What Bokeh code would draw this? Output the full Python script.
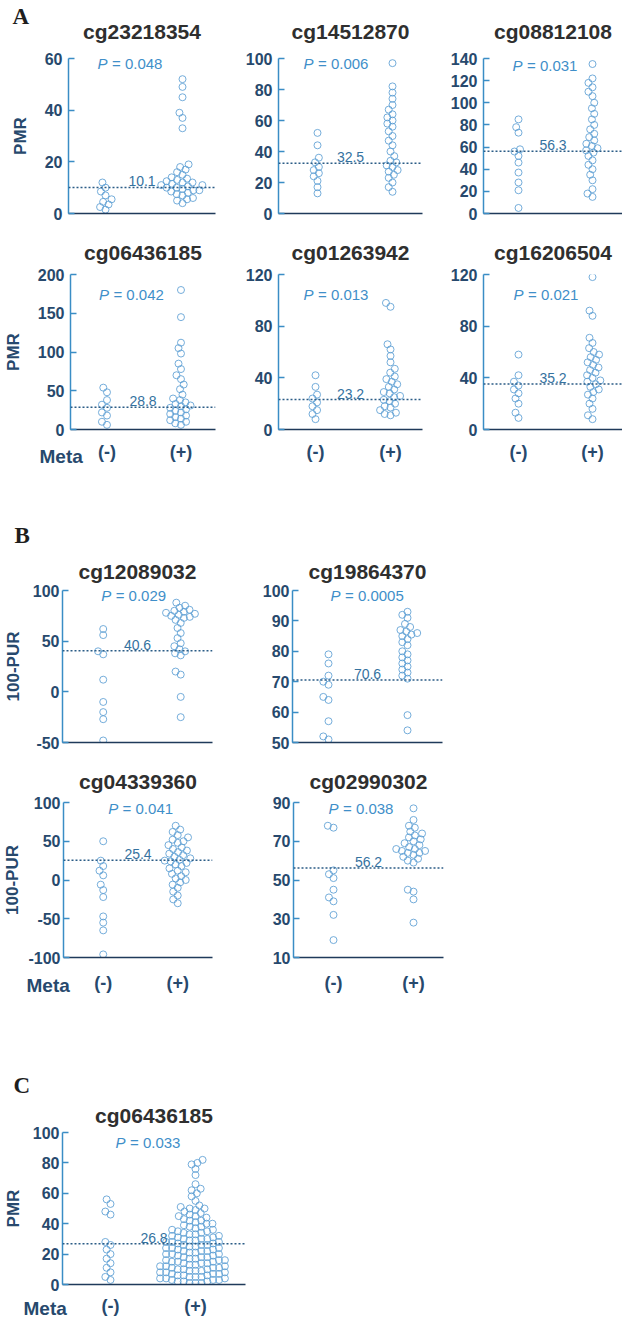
import math
from bokeh.plotting import figure
from bokeh.models import Range1d, FixedTicker, Span, Label, Spacer, Title
from bokeh.layouts import row, column
from bokeh.embed import file_html
from bokeh.resources import INLINE

# ---------------- data ----------------
titles = ["cg23218354", "cg14512870", "cg08812108", "cg06436185", "cg01263942",
          "cg16206504", "cg12089032", "cg19864370", "cg04339360", "cg02990302",
          "cg06436185"]
p_values = ["0.048", "0.006", "0.031", "0.042", "0.013", "0.021",
            "0.029", "0.0005", "0.041", "0.038", "0.033"]
means = [10.1, 32.5, 56.3, 28.8, 23.2, 35.2, 40.6, 70.6, 25.4, 56.2, 26.8]
y_labels = ["PMR", "", "", "PMR", "", "", "100-PUR", "", "100-PUR", "", "PMR"]
y_limits = [(0, 60), (0, 100), (0, 140), (0, 200), (0, 120), (0, 120),
            (-50, 100), (50, 100), (-100, 100), (10, 90), (0, 100)]
y_ticks = [[0, 20, 40, 60], [0, 20, 40, 60, 80, 100],
           [0, 20, 40, 60, 80, 100, 120, 140], [0, 50, 100, 150, 200],
           [0, 40, 80, 120], [0, 40, 80, 120], [-50, 0, 50, 100],
           [50, 60, 70, 80, 90, 100], [-100, -50, 0, 50, 100],
           [10, 30, 50, 70, 90], [0, 20, 40, 60, 80, 100]]
group_labels = ["(-)", "(+)"]
x_caption = "Meta"
panel_letters = {0: "A", 6: "B", 10: "C"}

a1_neg = [1.5, 2.5, 3.5, 4.5, 5.5, 7, 8.5, 10, 12]
a1_pos = [4, 5, 5.5, 6, 7, 7.5, 8, 8.5, 9, 9, 9.5, 10, 10, 10.5, 11, 11, 11.5, 12,
          12, 12.5, 13, 13.5, 14, 15, 16, 17, 18, 19, 33, 37, 39, 45, 49, 52]
a2_neg = [13, 17, 21, 24, 26, 28, 30, 33, 36, 44, 52]
a2_pos = [97, 82, 78, 74, 70, 67, 64, 62, 60, 58, 56, 53, 50, 47, 44, 40, 37, 34,
          33, 31, 30, 28, 27, 25, 23, 20, 17, 14]
a3_neg = [5, 21, 28, 37, 46, 52, 56, 58, 73, 78, 85]
a3_pos = [135, 122, 118, 114, 110, 106, 100, 95, 90, 85, 80, 76, 72, 69, 66, 63,
          61, 59, 57, 55, 52, 48, 44, 40, 35, 30, 22, 18, 15]
a4_neg = [6, 10, 18, 22, 28, 32, 38, 48, 54]
a4_pos = [180, 145, 112, 105, 98, 85, 78, 70, 65, 58, 52, 45, 40, 38, 35, 33, 31,
          30, 28, 26, 24, 22, 20, 18, 16, 14, 12, 10, 8, 6]
a5_neg = [8, 12, 15, 18, 21, 24, 27, 33, 42]
a5_pos = [98, 95, 66, 62, 57, 52, 47, 44, 41, 39, 37, 35, 33, 31, 29, 28, 26, 25,
          23, 22, 20, 18, 17, 15, 13, 12, 11]
a6_neg = [9, 13, 20, 24, 28, 31, 34, 37, 42, 58]
a6_pos = [118, 92, 88, 71, 67, 63, 60, 58, 56, 54, 52, 50, 48, 46, 44, 42, 40, 38,
          37, 35, 33, 31, 29, 27, 24, 20, 16, 11, 8]
b1_neg = [62, 56, 40, 37, 12, -10, -20, -27, -48]
b1_pos = [88, 85, 83, 81, 80, 79, 78, 77, 76, 75, 74, 73, 71, 68, 63, 58, 53, 48,
          45, 42, 40, 38, 36, 20, 17, -5, -25]
b2_neg = [79, 76, 72, 70, 69, 65, 64, 57, 52, 51]
b2_pos = [93, 92, 91, 89, 88, 87, 86.5, 86, 85.5, 85, 84, 83, 82, 80, 79, 78, 77,
          76, 75, 74, 73, 72, 71, 59, 54]
b3_neg = [50, 25, 18, 12, 6, -6, -13, -22, -47, -55, -65, -96]
b3_pos = [70, 65, 62, 58, 55, 52, 50, 48, 45, 42, 40, 38, 36, 34, 32, 30, 28, 26,
          25, 24, 22, 20, 18, 15, 12, 10, 8, 5, 2, 0, -3, -6, -10, -15, -20, -25, -30]
b4_neg = [78, 77, 55, 53, 51, 45, 41, 39, 32, 19]
b4_pos = [87, 81, 78, 77, 75, 74, 73, 72, 71, 70, 69, 68, 67, 66, 66, 65, 65, 64,
          64, 63, 62, 61, 60, 59, 45, 44, 40, 28]
c_neg = [56, 53, 48, 46, 28, 26, 23, 20, 17, 14, 11, 8, 5, 3]
c_pos = [82, 80, 79, 76, 72, 66, 63, 62, 60, 58,
         55, 52, 51, 50, 50, 49, 48, 47, 46, 45,
         45, 44, 43, 42, 42, 41, 40, 40, 39, 38,
         38, 37, 36, 36, 35, 35, 34, 34, 33, 33,
         32, 32, 31, 31, 30, 30, 30, 29, 29, 28,
         28, 28, 27, 27, 26, 26, 26, 25, 25, 24,
         24, 24, 23, 23, 22, 22, 22, 21, 21, 20,
         20, 20, 19, 19, 18, 18, 18, 17, 17, 16,
         16, 16, 15, 15, 15, 14, 14, 14, 13, 13,
         12, 12, 12, 11, 11, 11, 10, 10, 10, 9,
         9, 9, 8, 8, 8, 7, 7, 7, 6, 6,
         6, 5, 5, 5, 4, 4, 4, 3, 3, 3,
         2, 2, 2, 1, 1, 1]

groups = [(a1_neg, a1_pos), (a2_neg, a2_pos), (a3_neg, a3_pos),
          (a4_neg, a4_pos), (a5_neg, a5_pos), (a6_neg, a6_pos),
          (b1_neg, b1_pos), (b2_neg, b2_pos), (b3_neg, b3_pos),
          (b4_neg, b4_pos), (c_neg, c_pos)]

# ---------------- layout (page pixel coordinates) ----------------
GEOM = [
    dict(fig=(0, 0, 225, 228), frame=(68, 58, 215, 213), cats=(105, 182)),
    dict(fig=(225, 0, 432, 228), frame=(278, 58, 422, 213), cats=(317, 392)),
    dict(fig=(432, 0, 622, 228), frame=(483, 58, 622, 213), cats=(518, 592)),
    dict(fig=(0, 228, 225, 469), frame=(68, 273, 215, 429), cats=(105, 180)),
    dict(fig=(225, 228, 432, 469), frame=(278, 273, 422, 429), cats=(315, 390)),
    dict(fig=(432, 228, 622, 469), frame=(483, 273, 622, 429), cats=(518, 592)),
    dict(fig=(0, 518, 222, 757), frame=(61, 590, 212, 742), cats=(102, 180)),
    dict(fig=(222, 518, 452, 757), frame=(292, 590, 442, 742), cats=(328, 407)),
    dict(fig=(0, 757, 222, 995), frame=(62, 802, 212, 958), cats=(102, 177)),
    dict(fig=(222, 757, 453, 995), frame=(293, 802, 443, 958), cats=(333, 413)),
    dict(fig=(0, 1070, 255, 1318), frame=(62, 1132, 245, 1285), cats=(110, 195)),
]
TITLE_Y = [32, 32, 32, 252, 252, 252, 572, 572, 782, 782, 1116]
P_POS = [(97, 63), (303, 63), (512, 65), (97, 293), (303, 293), (513, 293),
         (100, 595), (330, 595), (107, 808), (328, 808), (115, 1142)]
LETTER_POS = {0: (12, 19), 6: (13, 538), 10: (13, 1088)}   # left edge, centre y
META_POS = {3: (37, 452), 8: (25, 982), 10: (23, 1305)}     # left edge, centre y
XLAB = {3: 12, 4: 12, 5: 12, 8: 15, 9: 15, 10: 11}
YSTAND = [6, 6, 6, 6, 6, 6, 3, 3, 3, 3, 3]
YLAB_STAND = [12, 12, 12, 12, 12, 12, 7, 7, 3, 3, 7]
TITLE_H = 21.0
LETTER_H = 23.0
META_H = 20.0
XLAB_H = 20.0

FONT = "Liberation Sans"
TITLE_C = "#2f2f2f"
TICK_C = "#27496d"
YAXIS_C = "#3a8dc5"
XAXIS_C = "#1f3a5a"
P_C = "#3f8fc9"
MEAN_C = "#35729f"
DOT_C = "#2b5c86"
PT_C = "#5d9fd4"


def make_title(standoff, **kw):
    try:
        return Title(standoff=standoff, **kw)
    except Exception:
        return Title(standoff=max(0, standoff), **kw)


def swarm_offsets(vals, ppy, d):
    order = sorted(range(len(vals)), key=lambda i: vals[i])
    placed = []
    offs = [0.0] * len(vals)
    for i in order:
        y = vals[i] * ppy
        cands = [0.0]
        for (px, py) in placed:
            dy = y - py
            if abs(dy) < d:
                dx = math.sqrt(d * d - dy * dy)
                cands += [px + dx, px - dx]
        cands.sort(key=lambda c: (round(abs(c), 3), c))
        chosen = 0.0
        for c in cands:
            if all((c - px) ** 2 + (y - py) ** 2 >= d * d - 1e-6 for px, py in placed):
                chosen = c
                break
        placed.append((chosen, y))
        offs[i] = chosen
    return offs


def build(k):
    g = GEOM[k]
    fl, ft, fr, fb = g["fig"]
    xl, xt, xr, xb = g["frame"]
    c1, c2 = g["cats"]
    ppu = float(c2 - c1)
    fw, fh = xr - xl, xb - xt
    x0 = 1 - (c1 - xl) / ppu
    x1 = x0 + fw / ppu
    y0, y1 = y_limits[k]
    ppy = fh / float(y1 - y0)

    def X(px):
        return x0 + (px - xl) / ppu

    def Y(py):
        return y0 + (xb - py) / ppy

    p = figure(width=fr - fl, height=fb - ft, title=None,
               x_range=Range1d(x0, x1), y_range=Range1d(y0, y1),
               min_border_left=xl - fl, min_border_right=fr - xr,
               min_border_top=xt - ft, min_border_bottom=fb - xb,
               output_backend="svg", toolbar_location=None,
               background_fill_color="white", border_fill_color="white",
               outline_line_color=None)
    p.grid.visible = False

    ya = p.yaxis[0]
    ya.ticker = FixedTicker(ticks=y_ticks[k])
    ya.major_label_overrides = {t: f"-{abs(t)}" for t in y_ticks[k] if t < 0}
    ya.axis_line_color = YAXIS_C
    ya.axis_line_width = 1.5
    ya.major_tick_line_color = YAXIS_C
    ya.major_tick_line_width = 1.5
    ya.major_tick_in = 6
    ya.major_tick_out = 0
    ya.minor_tick_in = 0
    ya.minor_tick_out = 0
    ya.major_label_text_font = FONT
    ya.major_label_text_font_style = "bold"
    ya.major_label_text_font_size = "16px"
    ya.major_label_text_color = TICK_C
    ya.major_label_standoff = YSTAND[k]
    if y_labels[k]:
        ya.axis_label = y_labels[k]
        ya.axis_label_text_font = FONT
        ya.axis_label_text_font_style = "bold"
        ya.axis_label_text_font_size = "17px"
        ya.axis_label_text_color = TICK_C
        ya.axis_label_standoff = YLAB_STAND[k]

    xa = p.xaxis[0]
    if k in XLAB:
        xa.ticker = FixedTicker(ticks=[1, 2])
        xa.major_label_overrides = {1: group_labels[0], 2: group_labels[1]}
        xa.major_label_standoff = XLAB[k]
    else:
        xa.ticker = FixedTicker(ticks=[])
    xa.axis_line_color = XAXIS_C
    xa.axis_line_width = 1.5
    xa.major_tick_in = 0
    xa.major_tick_out = 0
    xa.minor_tick_in = 0
    xa.minor_tick_out = 0
    xa.major_label_text_font = FONT
    xa.major_label_text_font_style = "bold"
    xa.major_label_text_font_size = "18px"
    xa.major_label_text_color = TICK_C

    neg, pos = groups[k]
    on = swarm_offsets(neg, ppy, 6.0)
    op = swarm_offsets(pos, ppy, 6.0)
    xs = [1 + o / ppu for o in on] + [2 + o / ppu for o in op]
    ys = list(neg) + list(pos)
    p.scatter(xs, ys, marker="circle", size=7, fill_color=None,
              line_color=PT_C, line_width=1, line_alpha=0.85)

    m = means[k]
    p.add_layout(Span(location=m, dimension="width", line_color=DOT_C,
                      line_dash="2 2", line_width=1.5))
    xm = X((xl + xr) / 2.0)
    p.add_layout(Label(x=xm, y=m + 1.0 / ppy, text=f"{m}", text_align="center",
                       text_baseline="bottom", text_font=FONT,
                       text_font_size="14px", text_color=MEAN_C))

    px_, py_ = P_POS[k]
    p.add_layout(Label(x=X(px_), y=Y(py_), text="P", text_align="left",
                       text_baseline="middle", text_font=FONT,
                       text_font_style="italic", text_font_size="15px",
                       text_color=P_C))
    p.add_layout(Label(x=X(px_ + 14.5), y=Y(py_), text="= " + p_values[k],
                       text_align="left", text_baseline="middle", text_font=FONT,
                       text_font_size="15px", text_color=P_C))

    # probe title above the frame
    s1 = 2 * (xt - TITLE_Y[k] - TITLE_H / 2)
    p.add_layout(make_title(s1, text=titles[k], align="center",
                            vertical_align="bottom", text_font=FONT,
                            text_font_style="bold", text_font_size="21px",
                            text_color=TITLE_C), "above")

    # panel letter, stacked above the probe title
    if k in LETTER_POS:
        lx, ly = LETTER_POS[k]
        top1 = xt - TITLE_H - s1
        s2 = 2 * (top1 - (ly + 2 + LETTER_H / 2))
        p.add_layout(make_title(s2, text=panel_letters[k], align="left",
                                offset=lx - xl, vertical_align="bottom",
                                text_font="Liberation Serif", text_font_style="bold",
                                text_font_size="23px", text_color="#1e1e1e"), "above")

    # "Meta" caption, placed in the lower panel beside the group labels
    if k in META_POS:
        mx, my = META_POS[k]
        axis_bottom = xb + XLAB[k] + XLAB_H
        s3 = 2 * ((my - META_H / 2) - axis_bottom)
        p.add_layout(make_title(s3, text=x_caption, align="left",
                                offset=mx - xl, vertical_align="top",
                                text_font=FONT, text_font_style="bold",
                                text_font_size="19px", text_color=TICK_C), "below")
    return p


figs = [build(k) for k in range(len(GEOM))]

layout = column(
    row(figs[0], figs[1], figs[2]),
    row(figs[3], figs[4], figs[5]),
    Spacer(width=10, height=49),
    row(figs[6], figs[7]),
    row(figs[8], figs[9]),
    Spacer(width=10, height=75),
    figs[10],
)

open("out.html", "w").write(file_html(layout, INLINE))
